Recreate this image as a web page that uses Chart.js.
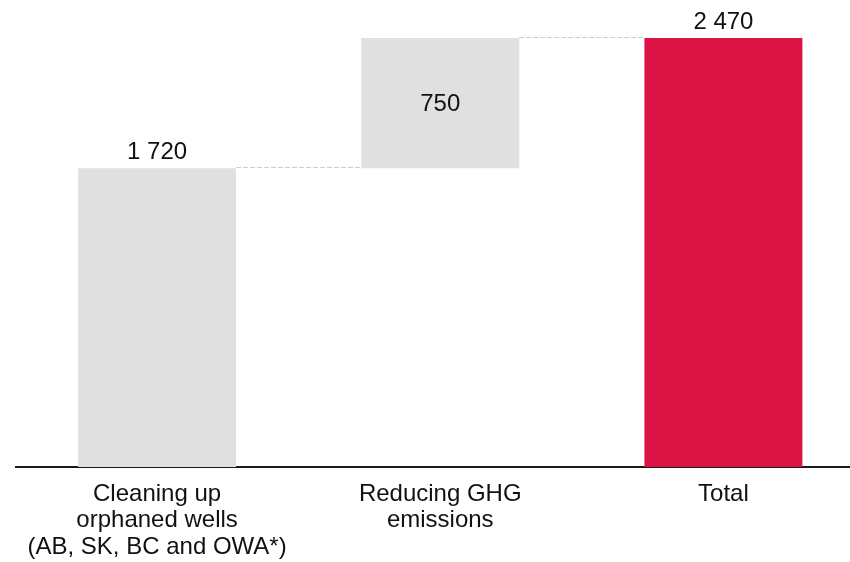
<!DOCTYPE html>
<html>
<head>
<meta charset="utf-8">
<title>Waterfall</title>
<script src="https://cdn.jsdelivr.net/npm/chart.js@4/dist/chart.umd.min.js"></script>
<style>
  html, body { margin: 0; padding: 0; background: #fff; overflow: hidden; }
  #wrap { width: 865px; height: 562px; }
</style>
</head>
<body>
<div id="wrap"><canvas id="c" width="865" height="562"></canvas></div>
<script>
// Waterfall steps and the closing total
const categories = [
  ['Cleaning up', 'orphaned wells', '(AB, SK, BC and OWA*)'],
  ['Reducing GHG', 'emissions'],
  ['Total']
];
const increments = [1720, 750];
const total = 2470;

const stepColor = '#E0E0E0';
const totalColor = '#DC1445';
const textColor = '#111111';
const fontFamily = '"Liberation Sans", Arial, Helvetica, sans-serif';

// Build floating [start, end] ranges from the running sum
const ranges = [];
let running = 0;
increments.forEach(v => { ranges.push([running, running + v]); running += v; });
ranges.push([0, total]);
const labelValues = [...increments, total];
const colors = [...increments.map(() => stepColor), totalColor];

const fmt = v => String(v).replace(/\B(?=(\d{3})+(?!\d))/g, ' ');

// Dashed connectors between consecutive bars plus value labels
const waterfallDecor = {
  id: 'waterfallDecor',
  afterDatasetsDraw(chart) {
    const ctx = chart.ctx;
    const meta = chart.getDatasetMeta(0);
    const bars = meta.data;
    ctx.save();
    ctx.strokeStyle = '#CFCFCF';
    ctx.lineWidth = 1;
    ctx.setLineDash([5, 2]);
    for (let i = 0; i < bars.length - 1; i++) {
      const a = bars[i], b = bars[i + 1];
      const level = ranges[i][1];
      const y = Math.round(chart.scales.y.getPixelForValue(level)) - 0.5;
      ctx.beginPath();
      ctx.moveTo(a.x + a.width / 2, y);
      ctx.lineTo(b.x - b.width / 2, y);
      ctx.stroke();
    }
    ctx.setLineDash([]);
    ctx.fillStyle = textColor;
    ctx.font = '24px ' + fontFamily;
    ctx.textAlign = 'center';
    bars.forEach((bar, i) => {
      const txt = fmt(labelValues[i]);
      const isTotal = i === bars.length - 1;
      if (i === 0 || isTotal) {
        ctx.textBaseline = 'alphabetic';
        ctx.fillText(txt, bar.x, bar.y - 9.5);
      } else {
        ctx.textBaseline = 'middle';
        ctx.fillText(txt, bar.x, (bar.y + bar.base) / 2 + 1.5);
      }
    });
    ctx.restore();
  }
};

new Chart(document.getElementById('c'), {
  type: 'bar',
  data: {
    labels: categories,
    datasets: [{
      data: ranges,
      backgroundColor: colors,
      borderWidth: 0,
      categoryPercentage: 0.558,
      barPercentage: 1
    }]
  },
  options: {
    responsive: false,
    animation: false,
    layout: { padding: { top: 38, left: 15.5, right: 0, bottom: 0 } },
    plugins: { legend: { display: false }, tooltip: { enabled: false } },
    scales: {
      x: {
        grid: { display: false, drawTicks: false },
        border: { display: true, color: '#1a1a1a', width: 2 },
        ticks: {
          color: textColor,
          font: { family: fontFamily, size: 24, lineHeight: 1.1 },
          padding: 14,
          maxRotation: 0,
          autoSkip: false
        },
        afterFit(scale) { scale.height = 95; }
      },
      y: {
        display: false,
        min: 0,
        max: total
      }
    }
  },
  plugins: [waterfallDecor]
});
</script>
</body>
</html>
